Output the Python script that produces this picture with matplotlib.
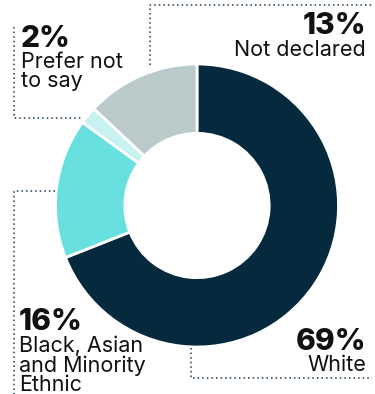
import matplotlib
matplotlib.use("Agg")
import matplotlib.pyplot as plt
from matplotlib.lines import Line2D

categories = ["White", "Black, Asian\nand Minority\nEthnic", "Prefer not\nto say", "Not declared"]
values = [69, 16, 2, 13]
colors = ["#052a3e", "#68e0e0", "#c8f2f2", "#bacaca"]

W, H = 375, 394
fig = plt.figure(figsize=(W / 100, H / 100), dpi=100)
plt.rcParams['font.family'] = ['Inter', 'DejaVu Sans']

def fx(x):
    return x / W

def fy(y):
    return 1 - y / H

# donut
cx, cy, r = 197, 205.5, 141.5
ax = fig.add_axes([fx(cx - r), fy(cy + r), 2 * r / W, 2 * r / H])
ax.pie(values, colors=colors, startangle=90, counterclock=False,
       wedgeprops=dict(width=0.49, edgecolor="white", linewidth=2))
ax.set_xlim(-1, 1)
ax.set_ylim(-1, 1)
ax.set_aspect("equal")
ax.axis("off")

lc = "#1d3a50"
def dotted(xs, ys):
    fig.add_artist(Line2D([fx(x) for x in xs], [fy(y) for y in ys],
                          transform=fig.transFigure, color=lc, lw=1.1,
                          dashes=(1, 2), solid_capstyle="butt"))

dotted([14, 14, 83], [27, 118, 118])          # prefer not to say
dotted([150, 150, 372], [65, 5, 5])           # not declared
dotted([55, 14, 14], [191, 191, 394])         # BAME
dotted([191, 191, 372], [348, 378, 378])      # white

tc = "#111111"
def label(x, y_pct, y_lab, pct, text, ha):
    fig.text(fx(x), fy(y_pct), f"{pct}%", ha=ha, va="baseline",
             fontsize=21.5, fontweight=800, color=tc)
    fig.text(fx(x), fy(y_lab), text, ha=ha, va="top", fontsize=15.5,
             color=tc, linespacing=0.95)

label(21, 47, 52, values[2], categories[2], "left")
label(366, 34, 40, values[3], categories[3], "right")
label(19, 330, 336, values[1], categories[1], "left")
label(366, 350, 355, values[0], categories[0], "right")

fig.savefig("out.png", dpi=100)
